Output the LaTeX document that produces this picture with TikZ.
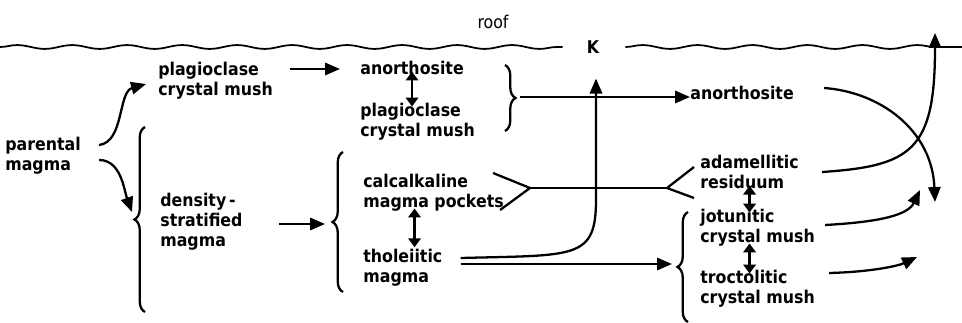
\documentclass[tikz,border=0pt]{standalone}
\usepackage{fontspec}
\newfontfamily\lab{DejaVu Sans Condensed}
\usetikzlibrary{arrows.meta,decorations.pathmorphing,decorations.pathreplacing}

\begin{document}
\begin{tikzpicture}[x=0.02cm,y=-0.02cm,
  every node/.style={font=\lab\bfseries\fontsize{10}{11.5}\selectfont},
  t/.style={align=left,inner sep=0pt,anchor=west},
  ln/.style={line width=1.3pt},
  arr/.style={ln,-{Triangle[length=8.5pt,width=7pt]}},
  dbl/.style={ln,{Triangle[length=5pt,width=7pt]}-{Triangle[length=5pt,width=7pt]},shorten <=-2pt,shorten >=-2pt},
  brc/.style={ln,decorate,decoration={brace,amplitude=6pt}},
  wave/.style={line width=1pt,decorate,decoration={snake,segment length=1.1cm,amplitude=1.1pt}}
]
  \useasboundingbox (0,0) rectangle (962,323);

  % roof
  \node[font=\lab\fontsize{10}{11.5}\selectfont] (roof) at (493,22) {roof};
  \node (K) at (593,47) {K};
  \draw[wave] (0,47) -- ([shift={(-18,0)}]K.west);
  \draw[wave] ([shift={(20,0)}]K.east) -- (962,47);

  % texts
  \node[t] (pm) at (5,156) {parental\\magma};
  \node[t] (pc1) at (158,81) {plagioclase\\crystal mush};
  \node[t] (an1) at (360,68) {anorthosite};
  \node[t] (pc2) at (360,122) {plagioclase\\crystal mush};
  \node[t] (an2) at (690,93) {anorthosite};
  \node[t] (ds) at (160,222) {density\,-\\stratified\\magma};
  \node[t] (ca) at (363,193) {calcalkaline\\magma pockets};
  \node[t] (th) at (363,268) {tholeiitic\\magma};
  \node[t] (ad) at (700,172) {adamellitic\\residuum};
  \node[t] (jo) at (700,228) {jotunitic\\crystal mush};
  \node[t] (tr) at (700,289) {troctolitic\\crystal mush};

  % braces
  \draw[brc] (145,312) -- (145,127);
  \draw[brc] (343,292) -- (343,152);
  \draw[brc] (505,65) -- (505,131);
  \draw[brc] (688,322) -- (688,212);
  \coordinate (b1) at (132,212);
  \coordinate (b2) at (520,97);
  \coordinate (b3) at (325,224);
  \coordinate (b4) at (672,264);

  % left part
  \draw[arr] ([shift={(18,-11)}]pm.east) .. controls +(25,-3) and +(-28,8) .. ([shift={(-12,3)}]pc1.west);
  \draw[arr] ([shift={(18,4)}]pm.east) .. controls +(22,0) and +(-8,-22) .. (b1);
  \draw[arr] ([shift={(-70,1)}]an1.west) -- ([shift={(-20,1)}]an1.west);
  \draw[dbl] (an1.south) -- (an1.south |- pc2.north);
  \draw[arr] (b2) -- (b2 -| an2.west);
  \draw[arr] ([shift={(36,2)}]ds.east) -- (b3);
  \draw[dbl,shorten >=1pt] ([shift={(-19,0)}]ca.south) -- ([shift={(-19,0)}]ca.south |- th.north);

  % fork between calcalkaline and adamellitic
  \coordinate (fl) at (530,188);
  \coordinate (fr) at (667,188);
  \draw[ln] ([shift={(-11,-20)}]ca.east) -- (fl) -- ([shift={(-4,17)}]ca.east);
  \draw[ln] (fl) -- (fr);
  \draw[ln] ([shift={(-6,-5)}]ad.west) -- (fr) -- ([shift={(-6,26)}]ad.west);

  % tholeiitic magma
  \draw[arr] ([shift={(18,-10)}]th.east) .. controls +(115,-3) and +(0,60) .. ([shift={(3,140)}]K.south) -- ([shift={(3,19)}]K.south);
  \draw[arr] ([shift={(18,-4)}]th.east) -- (b4);

  % right part
  \draw[dbl] (ad.south) -- (ad.south |- jo.north);
  \draw[dbl] (jo.south -| ad.south) -- (tr.north -| ad.south);
  \coordinate (e1) at (935,202);
  \coordinate (e2) at (935,33);
  \coordinate (e3) at (920,190);
  \coordinate (e4) at (917,257);
  \draw[arr] ([shift={(30,-5)}]an2.east) .. controls (880,92) and (932,130) .. (e1);
  \draw[arr] ([shift={(23,0)}]ad.east) .. controls (912,166) and (935,150) .. (e2);
  \draw[arr] ([shift={(10,-3)}]jo.east) .. controls (880,222) and (908,215) .. (e3);
  \draw[arr] ([shift={(14,-16)}]tr.east) .. controls (870,272) and (898,266) .. (e4);
\end{tikzpicture}
\end{document}
